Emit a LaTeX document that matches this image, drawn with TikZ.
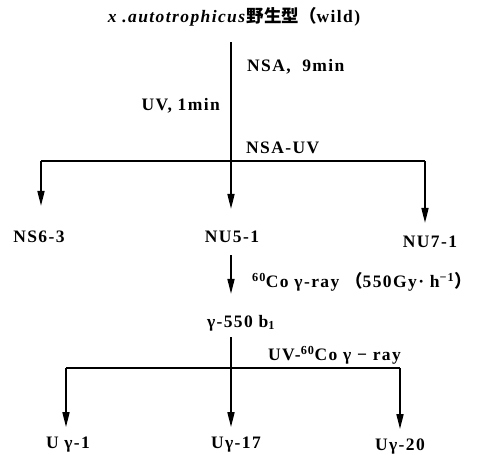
\documentclass[tikz,border=0pt]{standalone}
\usepackage{fontspec}
\setmainfont{Liberation Serif}[LetterSpace=8]
\newfontfamily\cjk{Noto Sans CJK SC}
\usetikzlibrary{arrows.meta}
\begin{document}
\begin{tikzpicture}[x=1pt,y=-1pt,
  lbl/.style={font=\fontsize{17.5}{20}\selectfont\bfseries, inner sep=0pt},
  ln/.style={line width=1.6pt},
  arr/.style={line width=1.6pt, -{Triangle[length=15pt,width=7pt]}}]
\useasboundingbox (0,0) rectangle (493,455);
% nodes
\node[lbl] (wild) at (234,17) {\textit{x .autotrophicus}{\cjk\bfseries 野生型（}wild)};
\node[lbl] (ns6) at (39,237) {NS6-3};
\node[lbl] (nu5) at (232,237) {NU5-1};
\node[lbl] (nu7) at (430,242) {NU7-1};
\node[lbl] (gam) at (241,323) {γ-550 b\textsubscript{1}};
\node[lbl] (ug1) at (68,445) {U γ-1};
\node[lbl] (ug17) at (236,445) {Uγ-17};
\node[lbl] (ug20) at (400,447) {Uγ-20};
% treatment labels
\node[lbl, anchor=west] (t1) at (247,67) {NSA,\ \ 9min};
\node[lbl, anchor=east] (t2) at (220,106) {UV, 1min};
\node[lbl, anchor=west] (t3) at (246,148) {NSA-UV};
\node[lbl, anchor=west] (t4) at (252,282) {\textsuperscript{60}Co γ-ray {\cjk\bfseries （}550Gy·\ h\textsuperscript{−1}{\cjk\bfseries ）}};
\node[lbl, anchor=west] (t5) at (268,355) {UV-\textsuperscript{60}Co γ − ray};
% connectors first stage
\coordinate (s1) at (231,42);
\coordinate (j1) at (231,161);
\coordinate (l1) at (41,161);
\coordinate (r1) at (425,161);
\draw[arr, shorten >=22pt] (s1) -- (s1 |- nu5.north);
\draw[ln] (l1) -- (r1);
\draw[arr, shorten >=25pt] (l1) -- (l1 |- ns6.north);
\draw[arr, shorten >=13pt] (r1) -- (r1 |- nu7.north);
% second stage
\coordinate (s2) at (231,255);
\draw[arr, shorten >=21pt] (s2) -- (s2 |- gam.north);
% third stage
\coordinate (s3) at (231,337);
\coordinate (j3) at (231,368);
\coordinate (l3) at (66,368);
\coordinate (r3) at (400,368);
\draw[arr, shorten >=10pt] (s3) -- (s3 |- ug17.north);
\draw[ln] (l3) -- (r3);
\draw[arr, shorten >=10pt] (l3) -- (l3 |- ug1.north);
\draw[arr, shorten >=10pt] (r3) -- (r3 |- ug20.north);
\end{tikzpicture}
\end{document}
